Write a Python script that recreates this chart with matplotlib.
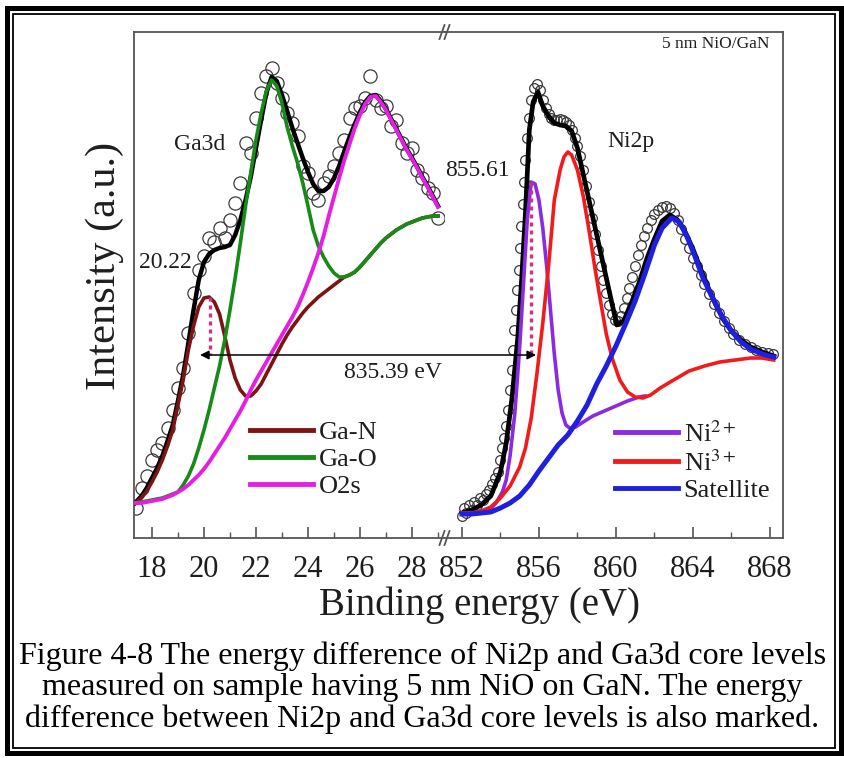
import numpy as np
import matplotlib
matplotlib.use("Agg")
import matplotlib.pyplot as plt
from matplotlib.lines import Line2D
from matplotlib.patches import Rectangle, ConnectionPatch
from matplotlib.font_manager import FontProperties

SERIF = ['Liberation Serif', 'DejaVu Serif']
plt.rcParams['font.family'] = SERIF
plt.rcParams['font.serif'] = SERIF
plt.rcParams['mathtext.fontset'] = 'stix'

# ---------------- Ga3d region (binding energy eV, intensity a.u.) ----------------
ga_x = [17.35, 17.6, 17.8, 18.0, 18.2, 18.4, 18.6, 18.8, 19.0, 19.2, 19.4, 19.6, 19.8,
        20.0, 20.2, 20.4, 20.6, 20.8, 21.0, 21.2, 21.4, 21.6, 21.8, 22.0, 22.2, 22.4,
        22.6, 22.8, 23.0, 23.2, 23.4, 23.6, 23.8, 24.0, 24.2, 24.4, 24.6, 24.8, 25.0,
        25.2, 25.4, 25.6, 25.8, 26.0, 26.2, 26.4, 26.6, 26.8, 27.0, 27.2, 27.4, 27.6,
        27.8, 28.0, 28.2, 28.4, 28.6, 28.8, 29.0]
ga_fit = [35, 42, 50, 60, 70, 82, 97, 113, 137, 163, 195, 228, 258,
          276, 284, 288, 290, 291, 293, 303, 318, 338, 361, 390, 418, 445,
          461, 457, 443, 427, 410, 395, 380, 366, 354, 347, 347, 351, 360,
          372, 387, 401, 414, 426, 436, 442, 443, 437, 429, 419, 409, 399,
          389, 380, 371, 361, 352, 342, 332]
ga_n = [35, 40, 47, 56, 66, 78, 92, 108, 133, 158, 188, 212, 231,
        240, 241, 236, 224, 202, 178, 160, 148, 142, 142, 147, 154, 164,
        174, 184, 194, 203, 211, 218, 225, 231, 236, 241, 245, 249, 253,
        257, 261, 263, 266, 271, 277, 283, 289, 295, 300, 304, 308, 311,
        314, 316, 318, 320, 321, 322, 322]
ga_o = [35, 36, 37, 38, 39, 40, 42, 44, 46, 53, 62, 74, 90,
        108, 128, 150, 172, 198, 228, 260, 295, 332, 365, 398, 425, 447,
        458, 452, 435, 411, 392, 375, 355, 332, 308, 292, 281, 272, 265,
        261, 261, 263, 266, 271, 277, 283, 289, 295, 300, 304, 308, 311,
        314, 316, 318, 320, 321, 322, 322]
o2s = [35, 35, 36, 37, 38, 39, 41, 43, 46, 49, 53, 58, 63,
       69, 76, 84, 92, 100, 109, 118, 127, 137, 148, 158, 167, 176,
       185, 194, 203, 212, 221, 231, 243, 256, 270, 285, 302, 322, 341,
       360, 378, 394, 410, 423, 434, 441, 442, 436, 428, 418, 408, 398,
       388, 379, 370, 360, 351, 341, 331]

ga_pts_x = [17.4, 17.6, 17.8, 18.0, 18.2, 18.4, 18.6, 18.8, 19.0, 19.2, 19.4, 19.6,
            19.8, 20.0, 20.2, 20.4, 20.6, 20.8, 21.0, 21.2, 21.4, 21.6, 21.8, 22.0,
            22.2, 22.4, 22.6, 22.8, 23.0, 23.2, 23.4, 23.6, 23.8, 24.0, 24.2, 24.4,
            24.6, 24.8, 25.0, 25.2, 25.4, 25.6, 25.8, 26.0, 26.2, 26.4, 26.6, 26.8,
            27.0, 27.2, 27.4, 27.6, 27.8, 28.0, 28.2, 28.4, 28.6, 28.8, 29.0]
ga_pts_y = [30, 50, 62, 78, 88, 95, 110, 128, 150, 170, 205, 245,
            268, 282, 300, 296, 310, 300, 318, 335, 355, 395, 385, 420,
            445, 462, 470, 455, 440, 425, 415, 402, 372, 365, 345, 338,
            355, 362, 372, 385, 398, 420, 430, 432, 440, 462, 438, 430,
            432, 412, 418, 395, 385, 390, 368, 360, 350, 345, 320]

# ---------------- Ni2p region ----------------
ni_fit_x = [852.0, 852.5, 853.0, 853.5, 854.0, 854.3, 854.6, 854.9, 855.1, 855.3, 855.5,
            855.7, 855.95, 856.2, 856.5, 856.8, 857.1, 857.4, 857.7, 858.0, 858.3, 858.6,
            858.9, 859.2, 859.5, 859.8, 860.05, 860.4, 860.8, 861.2, 861.6, 862.0, 862.4,
            862.8, 863.2, 863.6, 864.0, 864.4, 864.8, 865.2, 865.6, 866.0, 866.5, 867.0,
            867.6, 868.2]
ni_fit = [25, 28, 33, 42, 66, 95, 140, 200, 258, 325, 408,
          436, 446, 432, 422, 415, 413, 412, 407, 390, 364, 338,
          312, 286, 260, 234, 213, 217, 235, 255, 279, 299, 317,
          323, 318, 306, 289, 269, 250, 233, 218, 207, 198, 191,
          186, 182]

ni2_x = [852.0, 852.5, 853.0, 853.5, 853.8, 854.1, 854.3, 854.5, 854.75, 855.0, 855.2,
         855.4, 855.6, 855.8, 856.0, 856.2, 856.4, 856.6, 856.8, 857.0, 857.2, 857.4,
         857.6, 857.9, 858.3, 858.8, 859.4, 860.0, 860.6, 861.2, 861.5]
ni2_y = [25, 25, 26, 29, 36, 46, 58, 82, 125, 191, 255,
         320, 356, 354, 338, 310, 272, 228, 184, 148, 125, 113,
         110, 111, 116, 122, 127, 132, 137, 141, 142]

ni3_x = [852.0, 852.5, 853.0, 853.5, 854.0, 854.5, 855.0, 855.3, 855.6, 855.9, 856.2,
         856.5, 856.8, 857.1, 857.3, 857.5, 857.7, 858.0, 858.3, 858.6, 858.9, 859.2,
         859.5, 859.8, 860.2, 860.6, 861.0, 861.4, 861.8, 862.3, 863.0, 863.8, 864.6,
         865.4, 866.2, 867.0, 867.6, 868.2]
ni3_y = [25, 25, 27, 31, 40, 52, 71, 90, 120, 165, 215,
         272, 338, 368, 381, 386, 383, 368, 342, 308, 271, 237,
         204, 180, 158, 146, 141, 140, 143, 150, 158, 167, 172,
         176, 178, 180, 180, 178]

sat_x = [852.0, 852.5, 853.0, 853.5, 854.0, 854.5, 855.0, 855.5, 856.0, 856.5, 857.0,
         857.5, 858.0, 858.5, 859.0, 859.5, 860.0, 860.5, 861.0, 861.5, 862.0, 862.4,
         862.9, 863.3, 863.7, 864.1, 864.5, 865.0, 865.5, 866.0, 866.5, 867.0, 867.6,
         868.2]
sat_y = [24, 24, 25, 26, 30, 35, 42, 53, 67, 80, 93,
         103, 117, 133, 154, 172, 192, 214, 237, 264, 293, 310,
         320, 316, 301, 282, 261, 241, 222, 207, 196, 189, 184,
         181]

ni_pts_x = [852.0, 852.1, 852.2, 852.35, 852.5, 852.65, 852.8, 852.95, 853.1, 853.25,
            853.4, 853.55, 853.7, 853.85, 854.0, 854.1, 854.2, 854.3, 854.4, 854.5,
            854.58, 854.65, 854.72, 854.8, 854.88, 854.95, 855.02, 855.08, 855.15, 855.22,
            855.3, 855.38, 855.48, 855.6, 855.75, 855.9, 856.05, 856.2, 856.35, 856.5,
            856.65, 856.8, 856.95, 857.1, 857.25, 857.4, 857.55, 857.7, 857.85, 858.0,
            858.15, 858.3, 858.45, 858.6, 858.75, 858.9, 859.05, 859.2, 859.35, 859.5,
            859.65, 859.8, 859.95, 860.1, 860.25, 860.4, 860.55, 860.7, 860.85, 861.0,
            861.15, 861.3, 861.45, 861.6, 861.8, 862.0, 862.2, 862.4, 862.6, 862.8,
            863.0, 863.2, 863.4, 863.6, 863.8, 864.0, 864.2, 864.4, 864.6, 864.85,
            865.1, 865.35, 865.6, 865.85, 866.1, 866.4, 866.7, 867.0, 867.3, 867.6,
            867.9, 868.15]
ni_pts_y = [22, 30, 25, 33, 28, 36, 33, 40, 38, 44,
            48, 54, 60, 66, 78, 90, 100, 112, 128, 148,
            168, 188, 208, 228, 248, 268, 290, 312, 334, 356,
            378, 400, 420, 438, 450, 454, 448, 438, 430, 424,
            420, 418, 418, 419, 418, 416, 413, 408, 400, 392,
            382, 368, 352, 336, 320, 304, 288, 272, 258, 245,
            233, 224, 218, 217, 222, 230, 240, 250, 261, 272,
            283, 293, 302, 310, 318, 324, 328, 331, 332, 330,
            325, 318, 309, 299, 290, 280, 272, 263, 254, 244,
            234, 225, 217, 210, 204, 198, 194, 191, 188, 186,
            185, 184]

ga_labels = ['Ga-N', 'Ga-O', 'O2s']
ni_labels = [r'Ni$^{2+}$', r'Ni$^{3+}$', 'Satellite']
ga_peak = 20.22
ni_peak = 855.61
delta_label = '835.39 eV'

caption = ["Figure 4-8 The energy difference of Ni2p and Ga3d core levels",
           "measured on sample having 5 nm NiO on GaN. The energy",
           "difference between Ni2p and Ga3d core levels is also marked."]

# colours
C_GAN = '#7d1414'
C_GAO = '#178a17'
C_O2S = '#e41fe4'
C_NI2 = '#8a2be2'
C_NI3 = '#f01c1c'
C_SAT = '#1f1fe0'
C_DOT = '#d0308c'
C_SPINE = '#555555'
C_TXT = '#1e1e1e'

W, H = 845, 758
fig = plt.figure(figsize=(W / 100, H / 100), dpi=100)
fig.patch.set_facecolor('white')


def fx(px):
    return px / W


def fy(py):
    return 1 - py / H


X0, XB, X1 = 134, 445, 783
Y0, Y1 = 538, 32
axL = fig.add_axes([fx(X0), fy(Y0), fx(XB) - fx(X0), fy(Y1) - fy(Y0)])
axR = fig.add_axes([fx(XB), fy(Y0), fx(X1) - fx(XB), fy(Y1) - fy(Y0)])
axL.set_xlim(17.31, 29.27)
axR.set_xlim(851.12, 868.68)
axL.set_xticks([18, 20, 22, 24, 26, 28])
axL.set_xticks([19, 21, 23, 25, 27, 29], minor=True)
axR.set_xticks([852, 856, 860, 864, 868])
axR.set_xticks([854, 858, 862, 866], minor=True)
for ax in (axL, axR):
    ax.set_ylim(0, 506)
    ax.set_yticks([])
    for s in ax.spines.values():
        s.set_color(C_SPINE)
        s.set_linewidth(1.3)
    ax.tick_params(axis='x', which='both', direction='in', top=False, colors=C_SPINE,
                   labelcolor=C_TXT, labelsize=22, pad=12)
    ax.tick_params(axis='x', which='major', length=8, width=1.2)
    ax.tick_params(axis='x', which='minor', length=4, width=1.0)
    for lbl in ax.get_xticklabels():
        lbl.set_fontfamily(SERIF)
axL.spines['right'].set_visible(False)
axR.spines['left'].set_visible(False)

# ---- Ga3d panel
axL.plot(ga_pts_x, ga_pts_y, 'o', ms=9.5, mfc='none', mec='#3a3a3a', mew=0.9, zorder=2)
axL.plot(ga_x, ga_fit, color='black', lw=3.2, zorder=3)
axL.plot(ga_x, ga_n, color=C_GAN, lw=2.6, zorder=4)
axL.plot(ga_x, ga_o, color=C_GAO, lw=2.6, zorder=5)
axL.plot(ga_x, o2s, color=C_O2S, lw=2.8, zorder=6)

# ---- Ni2p panel
axR.plot(ni_pts_x, ni_pts_y, 'o', ms=7, mfc='none', mec='#3a3a3a', mew=0.9, zorder=2)
axR.plot(ni_fit_x, ni_fit, color='black', lw=3.4, zorder=3)
axR.plot(ni2_x, ni2_y, color=C_NI2, lw=2.6, zorder=4)
axR.plot(ni3_x, ni3_y, color=C_NI3, lw=2.6, zorder=5)
axR.plot(sat_x, sat_y, color=C_SAT, lw=3.6, zorder=6)

# peak markers (dotted) and energy difference arrow
Y_ARROW = 183
axL.plot([ga_peak, ga_peak], [ga_n[ga_x.index(20.2)], Y_ARROW], color=C_DOT, lw=2.4,
         ls=(0, (1.2, 1.2)), zorder=7)
axR.plot([ni_peak, ni_peak], [max(ni2_y), Y_ARROW], color=C_DOT, lw=2.4,
         ls=(0, (1.2, 1.2)), zorder=7)
arrow = ConnectionPatch(xyA=(19.85, Y_ARROW), coordsA=axL.transData,
                        xyB=(855.85, Y_ARROW), coordsB=axR.transData,
                        arrowstyle='<|-|>', mutation_scale=13, lw=1.1, color='black',
                        shrinkA=0, shrinkB=0, zorder=8)
fig.add_artist(arrow)

# text annotations
tkw = dict(ha='center', va='center', color=C_TXT, family=SERIF)
axL.text(19.85, 393, 'Ga3d', fontsize=17, **tkw)
axL.text(18.5, 276, '20.22', fontsize=17, **tkw)
axL.text(27.27, 165, delta_label, fontsize=17, **tkw)
axR.text(852.83, 368, '855.61', fontsize=17, clip_on=False, **tkw)
axR.text(860.8, 396, 'Ni2p', fontsize=17, **tkw)
axR.text(868.0, 494, '5 nm NiO/GaN', fontsize=12.5, ha='right', va='center', color=C_TXT,
         family=SERIF)

# legends
ga_handles = [Line2D([], [], color=c, lw=3.5) for c in (C_GAN, C_GAO, C_O2S)]
ni_handles = [Line2D([], [], color=c, lw=3.5) for c in (C_NI2, C_NI3, C_SAT)]
common = dict(frameon=False, prop=FontProperties(family=SERIF, size=19), handlelength=2.4,
              handletextpad=0.2, labelspacing=0.12, borderpad=0, borderaxespad=0,
              loc='upper left', labelcolor=C_TXT)
axL.legend(ga_handles, ga_labels, bbox_to_anchor=((250 - X0) / (XB - X0), (Y0 - 421) / (Y0 - Y1)),
           **common)
axR.legend(ni_handles, ni_labels, bbox_to_anchor=((615 - XB) / (X1 - XB), (Y0 - 421) / (Y0 - Y1)),
           **common)

# axis break marks
for py in (Y1, Y0):
    for dx in (-3, 2):
        xc = XB + dx
        fig.add_artist(Line2D([fx(xc - 2.5), fx(xc + 2.5)], [fy(py + 7), fy(py - 7)],
                              color=C_SPINE, lw=1.3))

# axis labels
fig.text(fx(480), fy(605), 'Binding energy (eV)', fontsize=28, ha='center', va='center',
         color=C_TXT, family=SERIF)
fig.text(fx(105), fy(266), 'Intensity (a.u.)', fontsize=30.5, ha='center', va='center',
         rotation=90, color=C_TXT, family=SERIF)

# caption
for i, line in enumerate(caption):
    fig.text(0.5, fy(656 + 31.5 * i), line, fontsize=23, ha='center', va='center',
             color='black', family=SERIF)

# double frame
fig.add_artist(Rectangle((fx(7.5), fy(753)), fx(841.5) - fx(7.5), fy(7.5) - fy(753),
                         transform=fig.transFigure, fill=False, ec='black', lw=3.6))
fig.add_artist(Rectangle((fx(13.5), fy(748)), fx(835) - fx(13.5), fy(13.5) - fy(748),
                         transform=fig.transFigure, fill=False, ec='black', lw=1.3))

fig.savefig('out.png', dpi=100)
